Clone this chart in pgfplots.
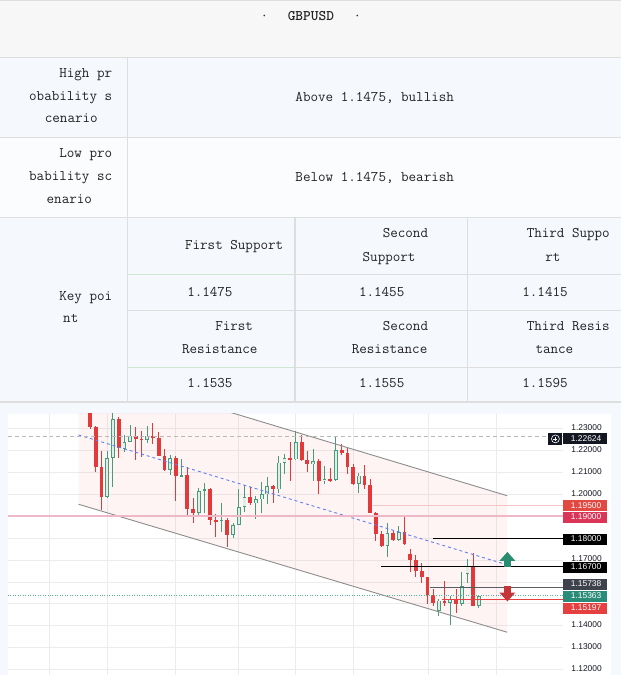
\documentclass[border=0pt]{standalone}
\usepackage{pgfplots}
\pgfplotsset{compat=1.18}
\usepackage{pgfplotstable}
\usepackage{fontspec}
\newfontfamily\lsans{Liberation Sans}
\definecolor{tborder}{RGB}{222,222,222}
\definecolor{thead}{RGB}{247,247,247}
\definecolor{tblue}{RGB}{245,249,253}
\definecolor{twhite}{RGB}{251,252,254}
\definecolor{ttext}{RGB}{34,34,34}
\definecolor{tgreenline}{RGB}{208,230,208}
\definecolor{cred}{RGB}{226,58,58}
\definecolor{cgreen}{RGB}{72,155,125}
\definecolor{cgfill}{RGB}{222,239,232}
\definecolor{gridc}{RGB}{236,236,238}
\definecolor{chgray}{RGB}{140,140,140}
\definecolor{cblue}{RGB}{95,125,240}
\definecolor{pinkbase}{RGB}{240,60,70}
\definecolor{line190}{RGB}{238,184,200}
\definecolor{line195}{RGB}{246,196,196}
\definecolor{lab1}{RGB}{19,23,34}
\definecolor{lab195}{RGB}{226,72,64}
\definecolor{lab190}{RGB}{218,52,86}
\definecolor{labgray}{RGB}{62,66,77}
\definecolor{linegray}{RGB}{90,92,100}
\definecolor{labteal}{RGB}{42,140,120}
\definecolor{labred}{RGB}{229,64,63}
\definecolor{arrowg}{RGB}{41,140,112}
\definecolor{arrowr}{RGB}{196,52,56}
\definecolor{dashg}{RGB}{185,185,185}
\definecolor{tealdot}{RGB}{90,175,155}
\newcommand\tf{\ttfamily\fontsize{14.8}{17}\selectfont}
\newcommand\lf{\lsans\fontsize{8.5}{10}\selectfont}

\pgfplotstableread{
i o h l c
0 1.2420 1.2430 1.2298 1.2309
1 1.2309 1.2314 1.2102 1.2125
2 1.2125 1.2200 1.1929 1.1989
5 1.2345 1.2354 1.2167 1.2210
8 1.2268 1.2309 1.2155 1.2253
9 1.2253 1.2288 1.2169 1.2250
11 1.2268 1.2326 1.2232 1.2256
12 1.2256 1.2283 1.2173 1.2175
13 1.2175 1.2208 1.2108 1.2110
15 1.2167 1.2173 1.1971 1.2084
17 1.2088 1.2125 1.1896 1.1933
18 1.1933 1.1982 1.1871 1.1917
21 1.2023 1.2027 1.1861 1.1881
22 1.1881 1.1911 1.1804 1.1878
24 1.1883 1.1891 1.1760 1.1816
28 1.1986 1.2032 1.1952 1.1959
32 1.2036 1.2042 1.1959 1.2023
35 1.2167 1.2238 1.2060 1.2160
37 1.2238 1.2273 1.2152 1.2155
38 1.2155 1.2197 1.2100 1.2137
40 1.2151 1.2163 1.2000 1.2060
42 1.2069 1.2122 1.2057 1.2066
44 1.2204 1.2231 1.2178 1.2188
45 1.2188 1.2215 1.2095 1.2125
46 1.2125 1.2140 1.2045 1.2047
48 1.2086 1.2136 1.2025 1.2041
49 1.2041 1.2072 1.1915 1.1917
50 1.1917 1.1920 1.1786 1.1820
51 1.1820 1.1831 1.1760 1.1763
53 1.1824 1.1835 1.1786 1.1793
55 1.1826 1.1896 1.1770 1.1771
56 1.1725 1.1751 1.1647 1.1700
57 1.1700 1.1722 1.1620 1.1650
58 1.1650 1.1688 1.1597 1.1620
59 1.1620 1.1620 1.1499 1.1541
60 1.1541 1.1567 1.1491 1.1502
62 1.1514 1.1605 1.1491 1.1503
64 1.1523 1.1567 1.1458 1.1499
67 1.1673 1.1733 1.1489 1.1489
}\redc

\pgfplotstableread{
i o h l c
3 1.1989 1.2200 1.1985 1.2167
4 1.2167 1.2390 1.2033 1.2344
6 1.2209 1.2273 1.2193 1.2238
7 1.2238 1.2318 1.2237 1.2268
10 1.2250 1.2314 1.2233 1.2268
14 1.2110 1.2182 1.2090 1.2167
16 1.2084 1.2160 1.2080 1.2088
19 1.1917 1.2027 1.1902 1.2016
20 1.2016 1.2050 1.1914 1.2023
23 1.1878 1.1959 1.1826 1.1883
25 1.1816 1.1871 1.1800 1.1861
26 1.1861 1.2024 1.1860 1.1941
27 1.1941 1.2043 1.1921 1.1986
29 1.1959 1.1992 1.1887 1.1977
30 1.1977 1.2057 1.1914 1.2000
31 1.2000 1.2080 1.1956 1.2036
33 1.2023 1.2175 1.2007 1.2145
34 1.2145 1.2186 1.2095 1.2167
36 1.2160 1.2288 1.2155 1.2238
39 1.2137 1.2208 1.2060 1.2151
41 1.2060 1.2129 1.2045 1.2069
43 1.2066 1.2268 1.2060 1.2204
47 1.2047 1.2098 1.2005 1.2086
52 1.1763 1.1869 1.1715 1.1824
54 1.1793 1.1857 1.1786 1.1826
61 1.1469 1.1522 1.1443 1.1514
63 1.1503 1.1534 1.1404 1.1523
65 1.1499 1.1645 1.1491 1.1579
66 1.1635 1.1706 1.1597 1.1673
68 1.1489 1.1537 1.1480 1.1536
}\greenc

\pgfplotsset{candle/.style={only marks, mark=*, mark size=0.1pt, mark options={draw opacity=0, fill opacity=0},
  error bars/.cd, y dir=both, y explicit, error mark=none}}

\begin{document}
\begin{tikzpicture}
\begin{scope}[x=1pt,y=-1pt]
\useasboundingbox (0,0) rectangle (627,682);
\fill[white] (0,0) rectangle (627,682);
\fill[thead] (0,0) rectangle (627,58);
\fill[tblue] (0,58) rectangle (627,139);
\fill[twhite] (0,139) rectangle (627,220);
\fill[tblue] (0,220) rectangle (627,682);
\fill[white] (8,418) rectangle (617,682);
\draw[tborder, line width=1.2pt] (0,0.8) -- (627,0.8);
\foreach \y in {58,139,220,406} \draw[tborder,line width=1.2pt] (0,\y) -- (627,\y);
\draw[tborder,line width=1.2pt] (128.5,58) -- (128.5,406);
\foreach \x in {298,472} \draw[tborder,line width=1.2pt] (\x,220) -- (\x,406);
\foreach \y in {277,313.5,371} \draw[tborder,line width=1.2pt] (129,\y) -- (627,\y);
\draw[tgreenline,line width=1.2pt] (129,277) -- (298,277);
\draw[tgreenline,line width=1.2pt] (129,371) -- (298,371);
\begin{scope}[every node/.style={inner sep=0pt, text=ttext, font=\tf}]
\node[anchor=mid] at (267,19) {·};
\node[anchor=mid, font=\tf\bfseries] at (314,19) {GBPUSD};
\node[anchor=mid] at (361,19) {·};
\node[anchor=mid east] at (113.5,76) {High pr};
\node[anchor=mid east] at (113.5,99) {obability s};
\node[anchor=mid] at (72,122) {cenario};
\node[anchor=mid] at (378.5,100) {Above 1.1475, bullish};
\node[anchor=mid east] at (113.5,157) {Low pro};
\node[anchor=mid east] at (113.5,180) {bability sc};
\node[anchor=mid] at (70,203) {enario};
\node[anchor=mid] at (378.5,181) {Below 1.1475, bearish};
\node[anchor=mid east] at (113.5,301) {Key poi};
\node[anchor=mid] at (71.5,324) {nt};
\node[anchor=mid] at (236.5,250) {First Support};
\node[anchor=mid] at (212,297) {1.1475};
\node[anchor=mid] at (236.5,332) {First};
\node[anchor=mid] at (222,355) {Resistance};
\node[anchor=mid] at (212,389) {1.1535};
\node[anchor=mid] at (409.5,238) {Second};
\node[anchor=mid] at (393,262) {Support};
\node[anchor=mid] at (385.5,297) {1.1455};
\node[anchor=mid] at (409.5,332) {Second};
\node[anchor=mid] at (393.5,355) {Resistance};
\node[anchor=mid] at (385.5,389) {1.1555};
\node[anchor=mid] at (574,238) {Third Suppo};
\node[anchor=mid] at (558.5,262) {rt};
\node[anchor=mid] at (550.5,297) {1.1415};
\node[anchor=mid] at (574,332) {Third Resis};
\node[anchor=mid] at (560,355) {tance};
\node[anchor=mid] at (550.5,389) {1.1595};
\end{scope}
\end{scope}

\begin{axis}[
  at={(8pt,-682pt)}, anchor=south west, scale only axis,
  width=561pt, height=264pt,
  xmin=-14.372, xmax=82.77, ymin=1.11733, ymax=1.236787,
  axis line style={draw=none}, major tick length=0pt,
  xtick={-7.10,3.00,14.94,25.85,35.90,46.01,59.17,71.12}, xticklabels={},
  ytick={1.12,1.13,1.14,1.15,1.16,1.17,1.18,1.19,1.20,1.21,1.22,1.23},
  yticklabels={1.12000,1.13000,1.14000,,,1.17000,,,1.20000,1.21000,1.22000,1.23000},
  yticklabel pos=right,
  yticklabel style={anchor=east, xshift=39pt, yshift=1pt, inner sep=0pt, font=\lf, text=lab1},
  grid=major, major grid style={gridc, line width=0.7pt},
  clip mode=individual,
]
% channel fill
\addplot[draw=none, fill=pinkbase, fill opacity=0.055] coordinates {(-2.026,1.25837) (72.95,1.19937) (72.95,1.13697) (-2.026,1.19547)} -- cycle;
% wicks
\addplot[candle, error bar style={line width=1pt, draw=cred}]
  table[x=i, y expr={(\thisrow{h}+\thisrow{l})/2}, y error expr={(\thisrow{h}-\thisrow{l})/2}] {\redc};
\addplot[candle, error bar style={line width=1pt, draw=cgreen}]
  table[x=i, y expr={(\thisrow{h}+\thisrow{l})/2}, y error expr={(\thisrow{h}-\thisrow{l})/2}] {\greenc};
% bodies
\addplot[candle, error bar style={line width=3.8pt, draw=cred}]
  table[x=i, y expr={(\thisrow{o}+\thisrow{c})/2}, y error expr={max(abs(\thisrow{o}-\thisrow{c})/2,0.00025)}] {\redc};
\addplot[candle, error bar style={line width=3.8pt, draw=cgreen}]
  table[x=i, y expr={(\thisrow{o}+\thisrow{c})/2}, y error expr={max(abs(\thisrow{o}-\thisrow{c})/2,0.00025)}] {\greenc};
\addplot[candle, error bar style={line width=2.2pt, draw=cgfill}]
  table[x=i, y expr={(\thisrow{o}+\thisrow{c})/2}, y error expr={max(abs(\thisrow{o}-\thisrow{c})/2-0.00036,0)}] {\greenc};
% channel lines
\addplot[chgray, line width=0.9pt] coordinates {(-2.026,1.25837) (72.95,1.19937)};
\addplot[chgray, line width=0.9pt] coordinates {(-2.026,1.19547) (72.95,1.13697)};
\addplot[cblue, line width=0.9pt, dash pattern=on 3pt off 3pt] coordinates {(-2.026,1.22715) (72.26,1.16833)};
% horizontal levels
\addplot[dashg, line width=0.9pt, dash pattern=on 4pt off 3pt] coordinates {(-14.372,1.22624) (82.77,1.22624)};
\addplot[line190, line width=1.5pt] coordinates {(-14.372,1.19) (82.77,1.19)};
\addplot[line195, line width=1pt] coordinates {(49.52,1.195) (82.77,1.195)};
\addplot[black, line width=1.1pt] coordinates {(60.0,1.18) (82.77,1.18)};
\addplot[black, line width=1.3pt] coordinates {(50.91,1.167) (82.77,1.167)};
\addplot[linegray, line width=1.6pt] coordinates {(59.39,1.15738) (82.77,1.15738)};
\addplot[tealdot, line width=0.9pt, dash pattern=on 1pt off 1.5pt] coordinates {(-14.372,1.15363) (82.77,1.15363)};
\addplot[labred, line width=1.6pt] coordinates {(61.47,1.15197) (82.77,1.15197)};
\end{axis}

\begin{scope}[x=1pt,y=-1pt]
% price labels
\fill[lab1] (554,437.3) rectangle (568,449.3);
\draw[white, line width=0.6pt] (561,443.3) circle (4);
\draw[white, line width=0.6pt] (559,443.3) -- (563,443.3) (561,441.3) -- (561,445.3);
\foreach \c/\col/\txt in {443.3/lab1/1.22624, 511/lab195/1.19500, 523/lab190/1.19000, 545/black/1.18000, 573.2/black/1.16700, 590.7/labgray/1.15738, 602.7/labteal/1.15363, 614.8/labred/1.15197}{
  \fill[\col] (569,\c-5.5) rectangle (613,\c+5.5);
  \node[anchor=mid, inner sep=0pt, text=white, font=\lf] at (592,\c) {\txt};
}
% arrows
\fill[arrowg] (504.5,566.5) -- (512.5,557.5) -- (520.5,566.5) -- cycle;
\fill[arrowg] (508.8,566) rectangle (516.2,573);
\fill[arrowr] (508.8,592) rectangle (516.2,599);
\fill[arrowr] (504.5,598.5) -- (512.5,607.5) -- (520.5,598.5) -- cycle;
\end{scope}
\end{tikzpicture}
\end{document}
